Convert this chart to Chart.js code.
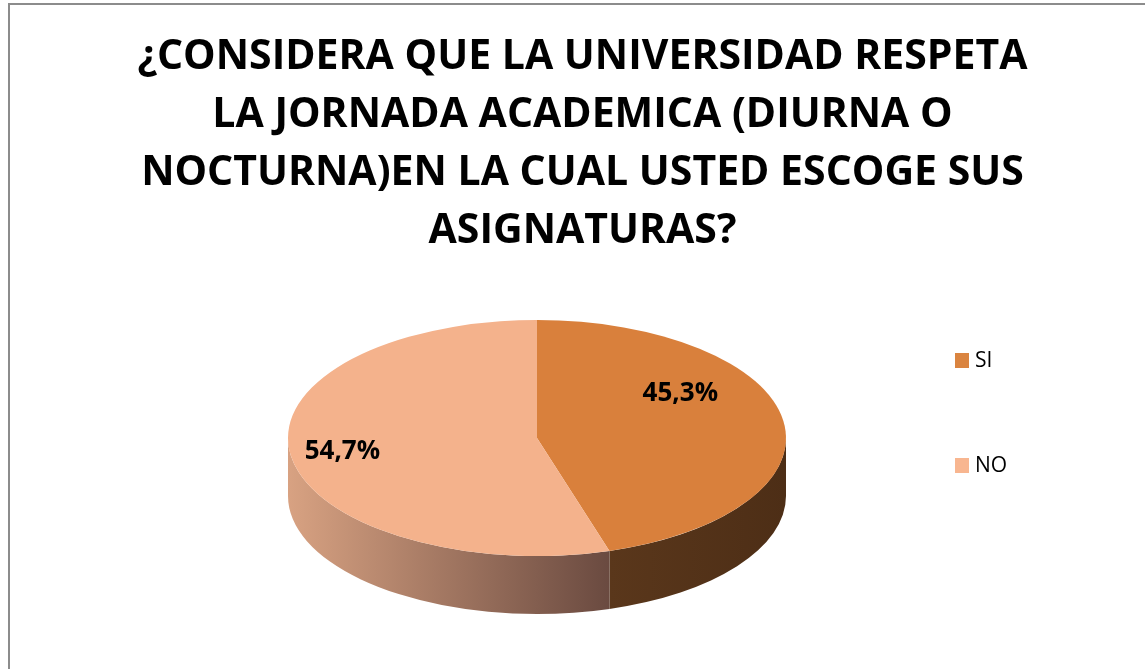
<!DOCTYPE html>
<html>
<head>
<meta charset="utf-8">
<script src="https://cdn.jsdelivr.net/npm/chart.js@4/dist/chart.umd.min.js"></script>
<style>
  html, body { margin: 0; padding: 0; background: #fff; overflow: hidden; }
  #frame {
    position: absolute; left: 8px; top: 3px; width: 1200px; height: 700px;
    border-left: 2px solid #8c8c8c; border-top: 2px solid #8c8c8c;
  }
  #wrap { position: absolute; left: 0; top: 0; width: 1145px; height: 669px; }
</style>
</head>
<body>
<div id="frame"></div>
<div id="wrap"><canvas id="pieChart"></canvas></div>
<script>
const categories = ["SI", "NO"];
const percentages = [45.3, 54.7];
const titleLines = [
  "¿CONSIDERA QUE LA UNIVERSIDAD RESPETA",
  "LA JORNADA ACADEMICA (DIURNA O",
  "NOCTURNA)EN LA CUAL USTED ESCOGE SUS",
  "ASIGNATURAS?"
];

const topColors = ["#d9803c", "#f4b28c"];
const legendColors = ["#da8440", "#f8b690"];
// side wall colours, left -> right
const sideColors = [["#5a371b", "#4d2e16"], ["#d8a282", "#6a4a40"]];

// where the flattened pie sits on the page
const pieCenter = { x: 537, y: 438 };
const pieRadius = 249;
const pieTilt = 118 / 249;
const pieDepth = 58;
const labelSpots = [{ r: 0.69, turn: -25 }, { r: 0.79, turn: 0 }];

function fmt(v) {
  return v.toFixed(1).replace(".", ",") + "%";
}

const pie3d = {
  id: "pie3d",
  beforeDatasetsDraw(chart) {
    const ctx = chart.ctx;
    const arcs = chart.getDatasetMeta(0).data;
    const cx = pieCenter.x, cy = pieCenter.y;
    const ry = pieRadius * pieTilt;

    // front walls
    arcs.forEach((arc, i) => {
      const { startAngle, endAngle } = arc.getProps(["startAngle", "endAngle"], true);
      [-2 * Math.PI, 0, 2 * Math.PI].forEach((shift) => {
        const a1 = Math.max(startAngle, shift);
        const a2 = Math.min(endAngle, shift + Math.PI);
        if (a2 <= a1) return;
        const x1 = cx + pieRadius * Math.cos(a1);
        const x2 = cx + pieRadius * Math.cos(a2);
        const g = ctx.createLinearGradient(Math.min(x1, x2), 0, Math.max(x1, x2), 0);
        g.addColorStop(0, sideColors[i][0]);
        g.addColorStop(1, sideColors[i][1]);
        ctx.fillStyle = g;
        ctx.beginPath();
        ctx.ellipse(cx, cy, pieRadius, ry, 0, a1, a2);
        ctx.ellipse(cx, cy + pieDepth, pieRadius, ry, 0, a2, a1, true);
        ctx.closePath();
        ctx.fill();
      });
    });

    // squash the top face
    const { x, y } = arcs[0];
    ctx.save();
    ctx.translate(cx, cy);
    ctx.scale(1, pieTilt);
    ctx.translate(-x, -y);
  },
  afterDatasetsDraw(chart) {
    const ctx = chart.ctx;
    ctx.restore();

    const arcs = chart.getDatasetMeta(0).data;
    const ry = pieRadius * pieTilt;
    ctx.save();
    ctx.font = "bold 26px 'Open Sans'";
    ctx.fillStyle = "#000";
    ctx.textAlign = "center";
    ctx.textBaseline = "middle";
    arcs.forEach((arc, i) => {
      const { startAngle, endAngle } = arc.getProps(["startAngle", "endAngle"], true);
      const mid = (startAngle + endAngle) / 2 + labelSpots[i].turn * Math.PI / 180;
      const lx = pieCenter.x + labelSpots[i].r * pieRadius * Math.cos(mid);
      const ly = pieCenter.y + labelSpots[i].r * ry * Math.sin(mid);
      ctx.fillText(fmt(chart.data.datasets[0].data[i]), lx, ly);
    });

    // legend
    ctx.font = "21px 'Open Sans'";
    ctx.textAlign = "left";
    chart.data.labels.forEach((lab, i) => {
      const top = 353 + i * 105;
      ctx.fillStyle = legendColors[i];
      ctx.fillRect(955, top, 14, 15);
      ctx.fillStyle = "#000";
      ctx.fillText(lab, 975, top + 8);
    });
    ctx.restore();
  }
};

new Chart(document.getElementById("pieChart"), {
  type: "pie",
  data: {
    labels: categories,
    datasets: [
      {
        data: percentages,
        backgroundColor: topColors,
        borderWidth: 0,
        radius: pieRadius,
        clip: false,
      },
    ],
  },
  options: {
    responsive: true,
    maintainAspectRatio: false,
    animation: false,
    events: [],
    layout: { padding: { left: 20 } },
    plugins: {
      legend: { display: false },
      tooltip: { enabled: false },
      title: {
        display: true,
        text: titleLines,
        color: "#000",
        font: { family: "'Open Sans'", size: 41, weight: "bold", lineHeight: 58 / 41 },
        padding: { top: 28, bottom: 0 },
      },
    },
  },
  plugins: [pie3d],
});
</script>
</body>
</html>
